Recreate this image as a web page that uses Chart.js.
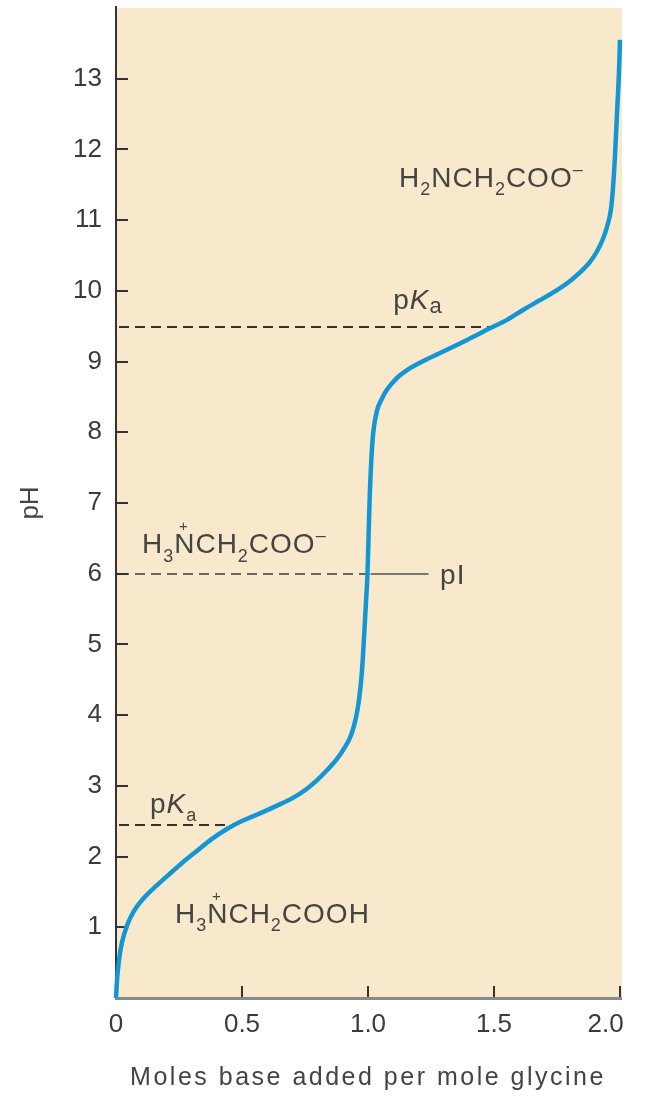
<!DOCTYPE html>
<html><head><meta charset="utf-8">
<script src="https://cdn.jsdelivr.net/npm/chart.js@4"></script>
<style>html,body{margin:0;padding:0;background:#fff}#wrap{width:645px;height:1099px}</style>
</head><body><div id="wrap"><canvas id="c" width="645" height="1099"></canvas></div>
<script>
// ---- data ----
const molesBase = [0, 0.004, 0.012, 0.024, 0.044, 0.071, 0.107, 0.155, 0.202, 0.262, 0.321, 0.381, 0.44, 0.504, 0.571, 0.639, 0.702, 0.758, 0.798, 0.837, 0.877, 0.909, 0.933, 0.952, 0.964, 0.976, 0.985, 0.992, 0.998,
                   1.006, 1.013, 1.021, 1.036, 1.056, 1.075, 1.115, 1.155, 1.226, 1.286, 1.385, 1.484, 1.552, 1.615, 1.683, 1.75, 1.802, 1.841, 1.881, 1.909, 1.933, 1.948, 1.964, 1.972, 1.98, 1.988, 1.996, 2.0];
const pHValues  = [0, 0.25, 0.54, 0.79, 1.03, 1.23, 1.40, 1.57, 1.72, 1.91, 2.08, 2.25, 2.39, 2.51, 2.61, 2.72, 2.83, 2.96, 3.08, 3.22, 3.38, 3.55, 3.72, 3.96, 4.21, 4.62, 5.15, 5.6, 6.0,
                   7.0, 7.6, 8.0, 8.31, 8.48, 8.6, 8.77, 8.88, 9.02, 9.12, 9.29, 9.47, 9.59, 9.73, 9.87, 10.01, 10.14, 10.26, 10.41, 10.56, 10.74, 10.9, 11.15, 11.45, 11.9, 12.5, 13.1, 13.55];
const yTickValues = [1,2,3,4,5,6,7,8,9,10,11,12,13];
const xTickValues = [0, 0.5, 1.0, 1.5, 2.0];
const xTickLabels = ['0', '0.5', '1.0', '1.5', '2.0    '];
const pKaValues = [2.45, 9.49];
const pKaLineEnds = [0.45, 1.5];
const pIValue = 6.0;
const pIDashEnd = 1.0;
const pILeader = [1.01, 1.24];
const xTitle = 'Moles base added per mole glycine';
const yTitle = 'pH';

const FONT = '"Liberation Sans", Arial, Helvetica, sans-serif';
const TXT = '#444';

function drawChem(ctx, segs, x, y, size){
  let cx = x;
  ctx.textAlign = 'left'; ctx.textBaseline = 'alphabetic';
  for (const [t, k] of segs){
    let dy = 0, f = `${size}px ${FONT}`;
    if (k === 'sub'){ f = `${Math.round(size*0.64)}px ${FONT}`; dy = size*0.3; }
    else if (k === 'subA'){ f = `${Math.round(size*0.8)}px ${FONT}`; dy = size*0.14; }
    else if (k === 'sup'){ f = `${Math.round(size*0.64)}px ${FONT}`; dy = -size*0.42; }
    else if (k === 'it'){ f = `italic ${size}px ${FONT}`; }
    ctx.font = f;
    ctx.fillText(t, cx, y + dy);
    const w = ctx.measureText(t).width;
    if (k === 'plus'){
      ctx.font = `${Math.round(size*0.55)}px ${FONT}`;
      ctx.textAlign = 'center';
      ctx.fillText('+', cx + w/2 - 1, y - size*0.78);
      ctx.textAlign = 'left';
    }
    cx += w;
  }
}

const decor = {
  id: 'decor',
  beforeDraw(chart){
    const {ctx, chartArea: a} = chart;
    ctx.save();
    ctx.fillStyle = '#f9e9cc';
    ctx.fillRect(a.left, a.top, a.right - a.left + 2, a.bottom - a.top);
    ctx.restore();
  },
  beforeDatasetsDraw(chart){
    const {ctx, scales: {x, y}, chartArea: a} = chart;
    ctx.save();
    ctx.lineWidth = 2; ctx.strokeStyle = '#333'; ctx.setLineDash([10, 6]);
    pKaValues.forEach((v, i) => {
      const py = Math.round(y.getPixelForValue(v));
      ctx.beginPath(); ctx.moveTo(x.getPixelForValue(0) + 3, py); ctx.lineTo(x.getPixelForValue(pKaLineEnds[i]), py); ctx.stroke();
    });
    const piy = Math.round(y.getPixelForValue(pIValue));
    ctx.strokeStyle = '#666'; ctx.lineWidth = 2.2;
    ctx.beginPath(); ctx.moveTo(x.getPixelForValue(0) + 3, piy); ctx.lineTo(x.getPixelForValue(pIDashEnd), piy); ctx.stroke();
    ctx.setLineDash([]); ctx.lineWidth = 2; ctx.strokeStyle = '#777';
    ctx.beginPath(); ctx.moveTo(x.getPixelForValue(pILeader[0]), piy); ctx.lineTo(x.getPixelForValue(pILeader[1]), piy); ctx.stroke();
    // axes
    ctx.strokeStyle = '#333'; ctx.lineWidth = 2;
    ctx.beginPath(); ctx.moveTo(a.left, a.top - 2); ctx.lineTo(a.left, a.bottom); ctx.stroke();
    yTickValues.forEach(v => {
      const py = Math.round(y.getPixelForValue(v));
      ctx.beginPath(); ctx.moveTo(a.left, py); ctx.lineTo(a.left + 12, py); ctx.stroke();
    });
    xTickValues.slice(1).forEach(v => {
      const px = Math.round(x.getPixelForValue(v));
      ctx.beginPath(); ctx.moveTo(px, a.bottom); ctx.lineTo(px, a.bottom - 12); ctx.stroke();
    });
    ctx.strokeStyle = '#8a8a8a'; ctx.lineWidth = 3;
    ctx.beginPath(); ctx.moveTo(a.left - 1, a.bottom + 0.5); ctx.lineTo(a.right + 2, a.bottom + 0.5); ctx.stroke();
    ctx.restore();
  },
  afterDraw(chart){
    const {ctx, scales: {x, y}, chartArea: a} = chart;
    ctx.save();
    ctx.fillStyle = TXT;
    ctx.letterSpacing = '1px';
    const S = 28;
    drawChem(ctx, [['H',''],['2','sub'],['NCH',''],['2','sub'],['COO',''],['\u2013','sup']], x.getPixelForValue(1.123), y.getPixelForValue(11.47), S);
    drawChem(ctx, [['p',''],['K','it'],['a','subA']], x.getPixelForValue(1.10), y.getPixelForValue(9.74), S);
    drawChem(ctx, [['H',''],['3','sub'],['N','plus'],['CH',''],['2','sub'],['COO',''],['\u2013','sup']], x.getPixelForValue(0.103), y.getPixelForValue(6.29), S);
    drawChem(ctx, [['pI','']], x.getPixelForValue(1.286), y.getPixelForValue(5.86), S);
    drawChem(ctx, [['p',''],['K','it'],['a','sub']], x.getPixelForValue(0.135), y.getPixelForValue(2.62), S);
    drawChem(ctx, [['H',''],['3','sub'],['N','plus'],['CH',''],['2','sub'],['COOH','']], x.getPixelForValue(0.234), y.getPixelForValue(1.06), S);
    // axis titles
    ctx.letterSpacing = '2.5px';
    ctx.font = `25px ${FONT}`;
    ctx.textAlign = 'center'; ctx.textBaseline = 'alphabetic';
    ctx.fillText(xTitle, (a.left + a.right)/2, 1085);
    ctx.letterSpacing = '0px';
    ctx.translate(38, (a.top + a.bottom)/2);
    ctx.rotate(-Math.PI/2);
    ctx.font = `26px ${FONT}`;
    ctx.fillText(yTitle, 0, 0);
    ctx.restore();
  }
};

new Chart(document.getElementById('c'), {
  type: 'scatter',
  data: {
    datasets: [{
      data: molesBase.map((v, i) => ({x: v, y: pHValues[i]})),
      showLine: true,
      borderColor: '#1496d4',
      borderWidth: 4.5,
      pointRadius: 0,
      cubicInterpolationMode: 'monotone',
      clip: false
    }]
  },
  options: {
    responsive: false,
    devicePixelRatio: 1,
    animation: false,
    layout: {padding: {top: 8, right: 25, left: 0, bottom: 0}},
    plugins: {legend: {display: false}, tooltip: {enabled: false}},
    scales: {
      x: {
        type: 'linear', min: 0, max: 2,
        afterBuildTicks: s => { s.ticks = xTickValues.map(v => ({value: v})); },
        afterFit: s => { s.height = 101; s.paddingLeft = 0; s.paddingRight = 0; },
        grid: {display: false, drawTicks: false},
        border: {display: false},
        ticks: {
          autoSkip: false, maxRotation: 0, padding: 11, color: '#3a3a3a',
          font: {family: FONT, size: 26},
          callback: (v) => { const i = xTickValues.indexOf(v); return i >= 0 ? xTickLabels[i] : ''; }
        }
      },
      y: {
        type: 'linear', min: 0, max: 14,
        afterBuildTicks: s => { s.ticks = yTickValues.map(v => ({value: v})); },
        afterFit: s => { s.width = 116; s.paddingTop = 0; s.paddingBottom = 0; },
        grid: {display: false, drawTicks: false},
        border: {display: false},
        ticks: {
          autoSkip: false, padding: 14, color: '#3a3a3a',
          font: {family: FONT, size: 26},
          callback: v => String(v)
        }
      }
    }
  },
  plugins: [decor]
});
</script>
</body></html>
